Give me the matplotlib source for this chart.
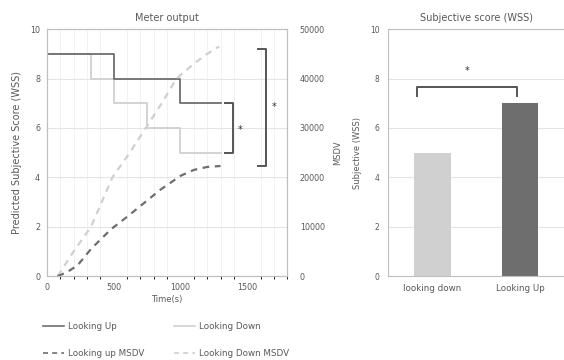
import matplotlib.pyplot as plt
from matplotlib.lines import Line2D

# Step outputs of the meter (WSS) over time
t_up = [0, 500, 1000, 1300]
wss_up = [9, 8, 7, 7]
t_down = [0, 330, 500, 750, 1000, 1300]
wss_down = [9, 8, 7, 6, 5, 5]

# Accumulated MSDV
t_msdv_up = [80, 150, 230, 330, 480, 600, 700, 850, 1000, 1100, 1200, 1300]
msdv_up = [0, 800, 2200, 5500, 9500, 12000, 14200, 17500, 20300, 21500, 22100, 22300]
t_msdv_down = [80, 200, 330, 490, 620, 740, 860, 970, 1100, 1200, 1290]
msdv_down = [0, 5000, 10000, 20000, 25000, 30000, 35000, 40000, 43000, 45000, 46500]

# Subjective scores
categories = ['looking down', 'Looking Up']
subjective = [5, 7]

txt = '#595959'
dark = '#6e6e6e'
light = '#d0d0d0'
grid = '#e4e4e4'
frame = '#bfbfbf'

plt.rcParams['font.family'] = 'DejaVu Sans'
fig = plt.figure(figsize=(5.64, 3.6), dpi=100)

# ---- left: meter output ----
ax = fig.add_axes([0.0833, 0.233, 0.426, 0.686])
ax2 = ax.twinx()
ax.set_xlim(0, 1800)
ax.set_ylim(0, 10)
ax2.set_ylim(0, 50000)
ax.set_xticks([0, 500, 1000, 1500])
ax.set_yticks(range(0, 11, 2))
ax2.set_yticks(range(0, 50001, 10000))
ax.set_xticks(range(0, 1801, 100), minor=True)
ax.grid(True, which='major', axis='y', color=grid, lw=0.8)
ax.grid(True, which='minor', axis='x', color='#f0f0f0', lw=0.6)
ax.set_axisbelow(True)

ax.step(t_down, wss_down, where='post', color=light, lw=1.3)
ax.step(t_up, wss_up, where='post', color=dark, lw=1.3)
ax2.plot(t_msdv_down, msdv_down, color=light, lw=1.6, ls=(0, (3, 2.5)))
ax2.plot(t_msdv_up, msdv_up, color=dark, lw=1.6, ls=(0, (3, 2.5)))

# significance brackets
def bracket(x, y0, y1, w=60):
    ax.plot([x - w, x, x, x - w], [y0, y0, y1, y1], color='#555555', lw=1.4)

bracket(1390, 5.0, 7.0)
ax.text(1445, 5.9, '*', color='#333333', fontsize=7, ha='center', va='center')
bracket(1640, 4.45, 9.2)
ax.text(1700, 6.85, '*', color='#333333', fontsize=7, ha='center', va='center')

for a in (ax, ax2):
    for s in a.spines.values():
        s.set_color(frame)
    a.tick_params(length=0, labelsize=5.8, colors=txt, pad=5)
ax2.tick_params(pad=9)
ax.set_title('Meter output', fontsize=7, color=txt, pad=6)
ax.set_xlabel('Time(s)', fontsize=6, color=txt, labelpad=2)
ax.set_ylabel('Predicted Subjective Score (WSS)', fontsize=7, color=txt, labelpad=6)
ax2.set_ylabel('MSDV', fontsize=6, color=txt, labelpad=6)

handles = [
    Line2D([], [], color=dark, lw=1.2),
    Line2D([], [], color=dark, lw=1.2, ls=(0, (3, 2.5))),
    Line2D([], [], color=light, lw=1.2),
    Line2D([], [], color=light, lw=1.2, ls=(0, (3, 2.5))),
]
labels = ['Looking Up', 'Looking up MSDV', 'Looking Down', 'Looking Down MSDV']
leg = fig.legend(handles, labels, ncol=2, loc='upper left', bbox_to_anchor=(0.063, 0.127),
                 frameon=False, fontsize=6.3, handlelength=2.4, handletextpad=0.4,
                 columnspacing=3.4, labelspacing=2.0)
for t in leg.get_texts():
    t.set_color(txt)

# ---- right: subjective score ----
bx = fig.add_axes([0.688, 0.233, 0.312, 0.686])
bx.bar([0, 1], subjective, width=0.42, color=[light, dark])
bx.set_xlim(-0.5, 1.5)
bx.set_ylim(0, 10)
bx.set_yticks(range(0, 11, 2))
bx.set_xticks([0, 1])
bx.set_xticklabels(categories)
bx.grid(True, axis='y', color=grid, lw=0.8)
bx.set_axisbelow(True)
bx.plot([-0.17, -0.17, 0.97, 0.97], [7.3, 7.65, 7.65, 7.3], color='#555555', lw=1.4)
bx.text(0.4, 8.3, '*', color='#333333', fontsize=7, ha='center', va='center')
for s in bx.spines.values():
    s.set_color(frame)
bx.spines['right'].set_visible(False)
bx.tick_params(axis='y', length=0, labelsize=5.5, colors=txt, pad=6)
bx.tick_params(axis='x', length=0, labelsize=6.3, colors=txt, pad=6)
bx.set_title('Subjective score (WSS)', fontsize=7, color=txt, pad=6)
bx.set_ylabel('Subjective (WSS)', fontsize=6, color=txt, labelpad=6)

fig.savefig('out.png', dpi=100)
